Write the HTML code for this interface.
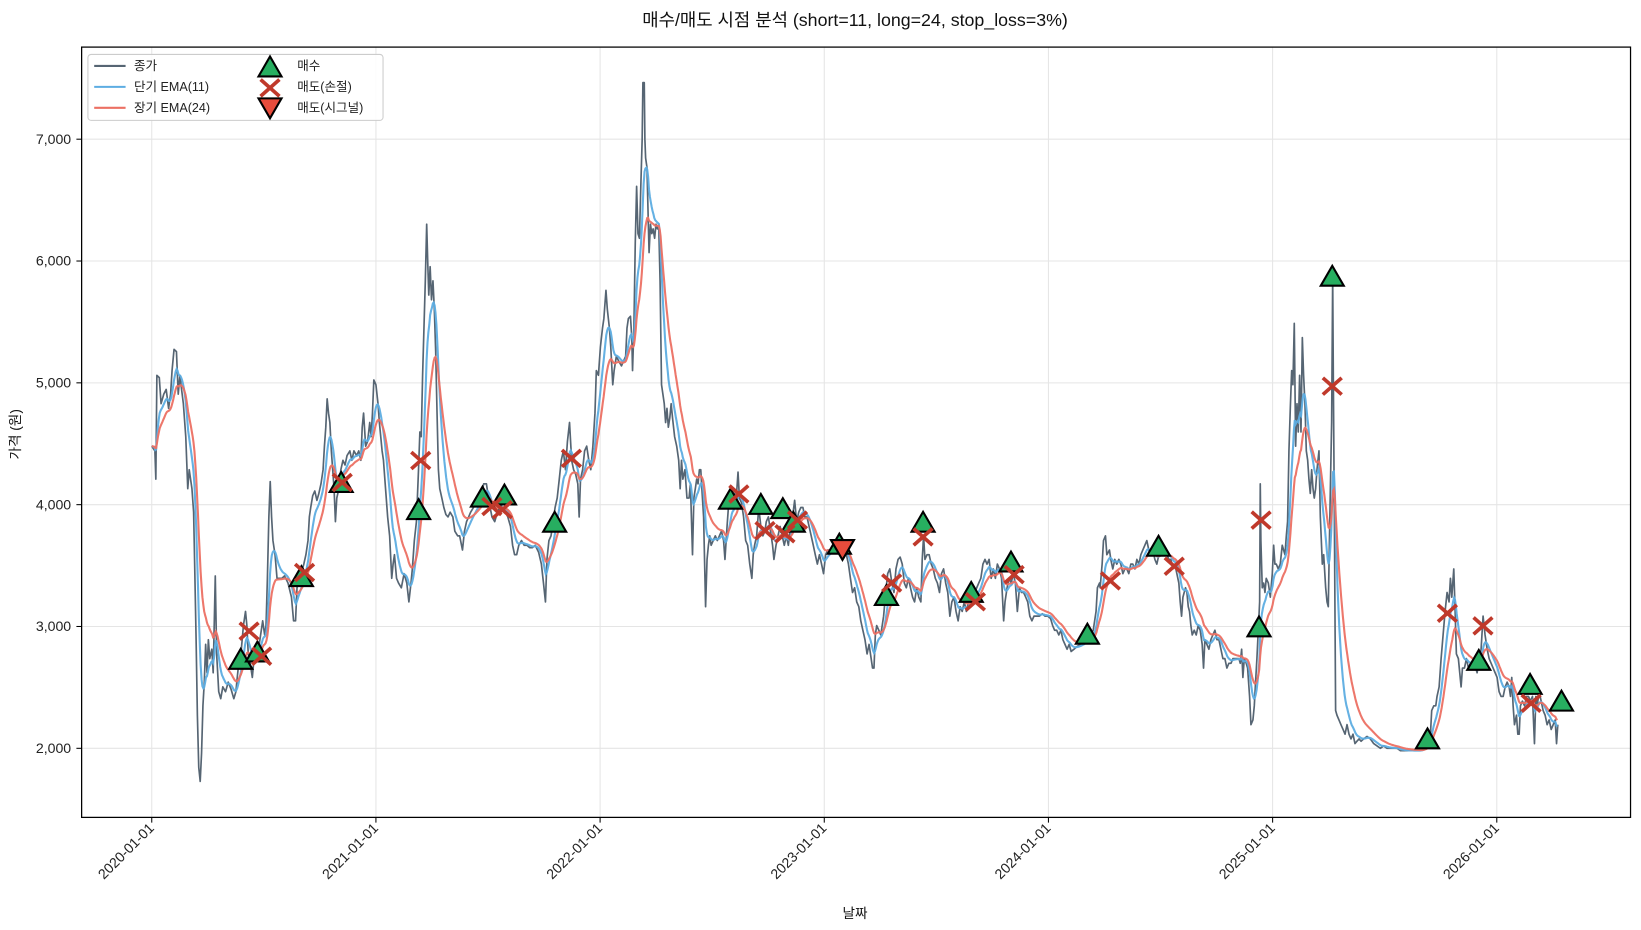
<!DOCTYPE html>
<html><head><meta charset="utf-8">
<style>
body{margin:0;background:#fff;}
svg{display:block;font-family:"Liberation Sans","Noto Sans CJK KR",sans-serif;}
</style></head>
<body>
<svg id="s" width="1641" height="930" viewBox="0 0 1568 888.6" preserveAspectRatio="none" xmlns="http://www.w3.org/2000/svg">
<rect width="1641" height="930" fill="#fff"/>
<g id="grid" stroke="#e5e5e5" stroke-width="1"></g>
<g id="series"></g>
<g id="marks"></g>
<rect x="78" y="45" width="1480" height="736" fill="none" stroke="#000" stroke-width="1.2"/>
<g id="ticks" font-size="13.5" fill="#222"></g>
<text x="817" y="25" font-size="17" text-anchor="middle" fill="#111">매수/매도 시점 분석 (short=11, long=24, stop_loss=3%)</text>
<text x="817" y="877" font-size="13" text-anchor="middle" fill="#111">날짜</text>
<text transform="translate(19,415) rotate(-90)" font-size="13" text-anchor="middle" fill="#111">가격 (원)</text>
<g id="legend">
<rect x="84" y="52" width="282" height="63" rx="3" fill="#fff" fill-opacity="0.85" stroke="#ccc"/>
<line x1="90" y1="63" x2="120" y2="63" stroke="#566573" stroke-width="2"/>
<text x="128" y="67" font-size="12" fill="#222">종가</text>
<line x1="90" y1="83" x2="120" y2="83" stroke="#5dade2" stroke-width="2"/>
<text x="128" y="87" font-size="12" fill="#222">단기 EMA(11)</text>
<line x1="90" y1="103" x2="120" y2="103" stroke="#ec7063" stroke-width="2"/>
<text x="128" y="107" font-size="12" fill="#222">장기 EMA(24)</text>
<text x="284" y="67" font-size="12" fill="#222">매수</text>
<text x="284" y="87" font-size="12" fill="#222">매도(손절)</text>
<text x="284" y="107" font-size="12" fill="#222">매도(시그널)</text>
</g>
</svg>
<script>
(function(){
var NS="http://www.w3.org/2000/svg";
function el(t,a,p){var e=document.createElementNS(NS,t);for(var k in a)e.setAttribute(k,a[k]);(p||document.getElementById('s')).appendChild(e);return e;}
function X(yr){return 145+(yr-2020)*214.2;}
function Y(p){return 715-(p-2000)*0.1164;}
var grid=document.getElementById('grid'),ticks=document.getElementById('ticks');
for(var y=2020;y<=2026;y++){var x=X(y);el('line',{x1:x,y1:45,x2:x,y2:781},grid);
 el('line',{x1:x,y1:781,x2:x,y2:786,stroke:'#000'},ticks);
 var t=el('text',{transform:'translate('+(x+3)+',792) rotate(-45)','text-anchor':'end'},ticks);t.textContent=y+'-01-01';}
for(var p=2000;p<=7000;p+=1000){var yy=Y(p);el('line',{x1:78,y1:yy,x2:1558,y2:yy},grid);
 el('line',{x1:73,y1:yy,x2:78,y2:yy,stroke:'#000'},ticks);
 var t2=el('text',{x:68,y:yy+4.5,'text-anchor':'end'},ticks);t2.textContent=(p/1000)+',000';}
var z1=[213,850,222,860,225,920,228,700,235,705,240,760,248,740,255,730,262,770,268,740,272,690,278,645,285,650,290,740,295,700,300,730,305,760,312,830,318,940,322,900,330,940,335,990,338,1100,342,1250,346,1420,350,1530,354,1560,358,1500,362,1400,366,1350,370,1270,374,1330,378,1260,382,1300,388,1280,392,1330,398,1125,402,1290,408,1370,414,1385,420,1360,428,1370,436,1350,444,1365,452,1385,458,1370,462,1340,468,1300,474,1280,480,1230,486,1200,490,1230,494,1290,500,1310,506,1340,512,1290,518,1270,524,1280,530,1250,536,1220,542,1250,546,1230,550,1130,554,1000,558,925,562,1000,566,1050,572,1080,578,1130,584,1130,592,1130,600,1125,610,1140,620,1170,626,1220,632,1220,636,1150,640,1140,646,1130,652,1110,656,1100,662,1080,668,1050,672,1000,676,980,682,955,688,945,694,965,700,950,706,930,712,900,716,850,720,810,724,750,728,780,732,800,736,860,740,900,744,940,748,1010,752,960,758,940,764,900,770,880,776,890,782,870,790,860,796,880,802,860,810,870,816,860,822,880,826,810,830,780,836,850,842,840,848,800,852,830,856,780,860,710,866,720,872,760,876,800,880,830,884,860,888,880,894,940,900,1000,906,1040,912,1130,916,1100,920,1080,926,1130,932,1140,940,1150,948,1120,956,1140,962,1180,968,1140,972,1110,978,1050,984,1010,990,900,994,820,998,830,1002,700,1006,600,1010,500,1014,380,1017,460,1020,530,1024,470,1028,540,1032,500,1036,560,1040,650,1044,780,1048,900,1052,940,1058,960,1064,980,1070,995,1076,1000,1082,990,1090,1000,1096,1030,1104,1040,1110,1040,1118,1070,1124,1030,1130,1010,1136,1000,1142,990,1150,980,1158,970,1166,960,1174,950,1180,930,1188,930,1196,970,1204,1000,1212,1010,1220,990,1230,975,1240,985,1250,1000,1258,1020,1264,1060,1270,1080,1276,1080,1282,1060,1290,1050,1298,1060,1306,1060,1314,1065,1322,1065,1330,1060,1340,1075,1348,1100,1354,1140,1360,1180,1364,1090,1370,1050,1376,1040,1382,1010,1388,980,1394,960,1400,920,1406,880,1412,860,1418,900,1424,840,1430,800,1436,880,1442,900,1448,910,1454,930,1458,1000,1462,920,1468,900,1474,860,1480,850,1486,880,1492,900,1498,850,1504,780,1508,690,1514,700,1520,640,1526,600,1530,580,1536,520,1540,560,1546,600,1550,640,1556,720,1560,690];
var z2=[165,660,172,670,180,680,186,670,192,660,196,600,200,580,206,575,210,620,212,690,216,600,220,420,224,300,228,400,232,410,236,300,240,200,242,80,246,80,248,200,250,240,254,260,258,380,260,440,264,380,268,400,272,390,276,410,280,380,284,390,288,380,292,500,296,720,300,740,304,760,308,800,312,770,316,810,320,790,324,760,328,790,334,830,340,850,346,880,350,940,354,880,358,920,364,900,370,960,376,960,380,930,386,1080,390,960,394,940,398,920,402,930,406,900,410,900,414,950,418,1000,424,1190,428,1090,432,1060,436,1040,440,1060,446,1050,452,1040,458,1050,464,1040,470,1030,476,1050,480,1090,486,1020,490,980,496,960,500,940,504,980,508,950,512,970,518,905,522,960,528,970,534,1000,540,1050,546,1060,552,1100,558,1130,562,1080,566,1060,572,1040,578,980,584,1020,590,1040,596,1030,600,1010,606,1000,612,1030,618,1060,622,1090,628,1060,634,1040,640,1020,646,1040,652,1060,658,1040,664,1060,670,1020,676,1000,682,965,688,1010,694,990,700,980,706,980,712,1000,718,1000,724,1020,730,1040,736,1060,742,1080,748,1100,754,1080,760,1100,766,1120,772,1080,778,1070,784,1070,790,1070,796,1060,802,1060,808,1070,814,1060,820,1070,826,1080,832,1080,838,1100,844,1130,850,1160,856,1150,862,1180,868,1190,874,1220,880,1240,886,1260,892,1290,898,1270,904,1300,908,1320,912,1320,916,1250,920,1230,926,1240,932,1250,940,1210,946,1160,952,1120,958,1110,964,1140,970,1160,976,1110,982,1090,988,1085,994,1100,1000,1140,1006,1150,1012,1130,1018,1150,1024,1170,1030,1180,1036,1150,1042,1170,1048,1180,1052,1090,1056,1040,1060,1090,1066,1080,1072,1080,1078,1100,1084,1110,1090,1130,1096,1140,1102,1160,1108,1120,1114,1110,1120,1140,1126,1160,1132,1210,1138,1180,1144,1170,1150,1200,1156,1220,1162,1190,1168,1200,1174,1180,1180,1200,1186,1180,1192,1170,1198,1175,1204,1160,1210,1150,1216,1140,1222,1130,1228,1100,1234,1090,1240,1100,1246,1090,1252,1130,1258,1110,1264,1130,1270,1100,1276,1110,1282,1130,1288,1220,1292,1180,1298,1150,1304,1130,1310,1140,1316,1120,1322,1140,1328,1200,1334,1150,1340,1160,1346,1160,1352,1170,1358,1180,1364,1210,1370,1220,1376,1210,1384,1210,1392,1210,1400,1205,1408,1210,1416,1210,1424,1215,1430,1230,1436,1240,1442,1240,1448,1250,1454,1240,1460,1260,1466,1270,1472,1280,1478,1270,1484,1285,1492,1280,1500,1275,1510,1270,1520,1265,1530,1260,1540,1250,1548,1240,1556,1200,1560,1150,1566,1140];
var z3=[180,1150,186,1100,190,1050,196,1040,200,1080,204,1075,208,1070,212,1090,218,1110,224,1090,230,1100,236,1090,242,1100,248,1120,254,1110,260,1110,266,1120,272,1100,278,1100,284,1110,290,1090,296,1100,302,1080,308,1070,314,1060,320,1050,326,1070,332,1080,338,1070,344,1090,350,1100,356,1080,362,1070,368,1080,374,1070,380,1080,386,1090,392,1090,398,1110,404,1100,410,1120,416,1140,420,1180,424,1210,428,1170,432,1160,436,1150,440,1160,444,1190,448,1200,452,1230,456,1250,462,1240,468,1250,474,1230,480,1240,486,1270,490,1320,494,1260,500,1270,506,1280,512,1260,518,1250,524,1240,530,1260,536,1260,542,1280,548,1300,554,1300,560,1320,566,1310,572,1310,578,1300,584,1300,590,1300,596,1300,600,1310,604,1280,608,1340,612,1300,618,1310,622,1320,628,1380,632,1440,638,1430,642,1400,646,1350,650,1300,654,1240,658,1180,660,930,662,1050,666,1150,670,1140,674,1160,678,1130,684,1140,690,1170,696,1120,700,1060,704,1100,708,1100,714,1110,720,1100,726,1060,730,1070,734,1080,738,1040,742,1010,746,860,750,770,754,690,758,720,762,590,766,850,770,760,774,820,778,700,782,820,786,620,790,700,794,760,798,860,802,880,806,920,810,950,814,900,818,940,822,960,826,940,830,900,836,860,840,1000,846,1100,850,1080,856,1150,860,1180,864,1190,866,1100,870,950,874,800,877,490,879,700,882,1000,886,1410,890,1420,896,1430,902,1440,908,1450,914,1460,920,1440,926,1460,932,1470,938,1460,944,1480,950,1475,956,1470,962,1475,970,1470,980,1465,990,1470,1000,1480,1010,1485,1020,1490,1030,1485,1040,1490,1050,1490,1060,1490,1070,1490,1080,1495,1090,1495,1100,1495,1110,1495,1120,1495,1130,1495,1140,1495,1150,1490,1160,1480,1170,1460,1174,1410,1180,1400,1186,1400,1190,1380,1196,1360,1202,1300,1208,1250,1214,1200,1220,1160,1226,1180,1230,1130,1234,1170,1240,1110,1244,1200,1248,1290,1254,1300,1258,1330,1262,1360,1266,1320,1272,1320,1278,1300,1284,1320,1290,1310,1296,1320,1302,1310,1310,1330,1316,1300,1322,1280,1328,1210,1334,1250,1340,1280,1346,1300,1352,1310,1358,1320,1364,1330,1370,1340,1376,1370,1382,1380,1388,1380,1394,1360,1400,1350,1406,1360,1410,1380,1414,1340,1418,1400,1422,1440,1428,1420,1432,1460,1436,1460,1440,1400,1446,1390,1452,1400,1458,1380,1464,1380,1470,1390,1476,1380,1482,1480,1486,1380,1490,1400,1496,1370,1502,1390,1508,1410,1514,1420,1520,1440,1526,1430,1532,1450,1538,1440,1544,1430,1548,1480,1552,1440];
var pts=[];
function add(a,y0,x0,sc){for(var i=0;i<a.length;i+=2){pts.push([y0+(a[i]-x0)/sc,7000-(a[i+1]-200)/0.258]);}}
add(z1,2020,213,653);add(z2,2022,118,650);add(z3,2024,25,672);
var d=[],j=0,step=1/252;
for(var t=pts[0][0];t<=pts[pts.length-1][0];t+=step){
 while(j<pts.length-2&&pts[j+1][0]<t)j++;
 var a=pts[j],b=pts[j+1],f=(b[0]-a[0])>0?(t-a[0])/(b[0]-a[0]):0;f=Math.max(0,Math.min(1,f));
 d.push([t,a[1]+(b[1]-a[1])*f]);}
function ema(n){var k=2/(n+1),e=d[0][1],o=[];for(var i=0;i<d.length;i++){e=d[i][1]*k+e*(1-k);o.push([d[i][0],e]);}return o;}
function path(arr){var s='';for(var i=0;i<arr.length;i++){s+=(i?'L':'M')+X(arr[i][0]).toFixed(1)+','+Y(arr[i][1]).toFixed(1);}return s;}
var g=document.getElementById('series');
el('path',{d:path(pts),fill:'none',stroke:'#566573','stroke-width':1.6,'stroke-linejoin':'round'},g);
el('path',{d:path(ema(11)),fill:'none',stroke:'#5dade2','stroke-width':2,'stroke-opacity':0.95},g);
el('path',{d:path(ema(24)),fill:'none',stroke:'#ec7063','stroke-width':2,'stroke-opacity':0.95},g);
var m=document.getElementById('marks');
function tri(x,y,up,fill,par){var s=up?(x-11)+','+(y+8)+' '+(x+11)+','+(y+8)+' '+x+','+(y-11):(x-11)+','+(y-8)+' '+(x+11)+','+(y-8)+' '+x+','+(y+11);
 el('polygon',{points:s,fill:fill,stroke:'#000','stroke-width':2},par||m);}
function cross(x,y,par){el('path',{d:'M'+(x-9)+','+(y-8)+'L'+(x+9)+','+(y+8)+'M'+(x-9)+','+(y+8)+'L'+(x+9)+','+(y-8),stroke:'#c0392b','stroke-width':3.5,fill:'none'},par||m);}
var buys=[[230,631],[246,624],[288,552],[326,462],[400,488],[461,476],[482,474],[530,500],[698,478],[727,483],[748,487],[758,500],[802,521],[847,570],[882,500],[928,567],[966,538],[1039,607],[1107,523],[1203,600],[1273,265],[1364,707],[1413,632],[1462,655],[1492,671]];
var sells=[[238,603],[250,627],[291,547],[327,461],[402,440],[470,484],[480,487],[546,438],[706,472],[731,507],[750,510],[762,497],[852,557],[882,513],[932,575],[969,549],[1061,555],[1122,541],[1205,497],[1273,369],[1383,586],[1417,598],[1463,672]];
buys.forEach(function(b){tri(b[0],b[1],true,'#27ae60');});
sells.forEach(function(s){cross(s[0],s[1]);});
tri(805,524,false,'#e74c3c');
var L=document.getElementById('legend');
L.parentNode.appendChild(L);
tri(258,65,true,'#27ae60',L);
cross(258,84,L);
tri(258,102,false,'#e74c3c',L);
})();
</script>
</body></html>
